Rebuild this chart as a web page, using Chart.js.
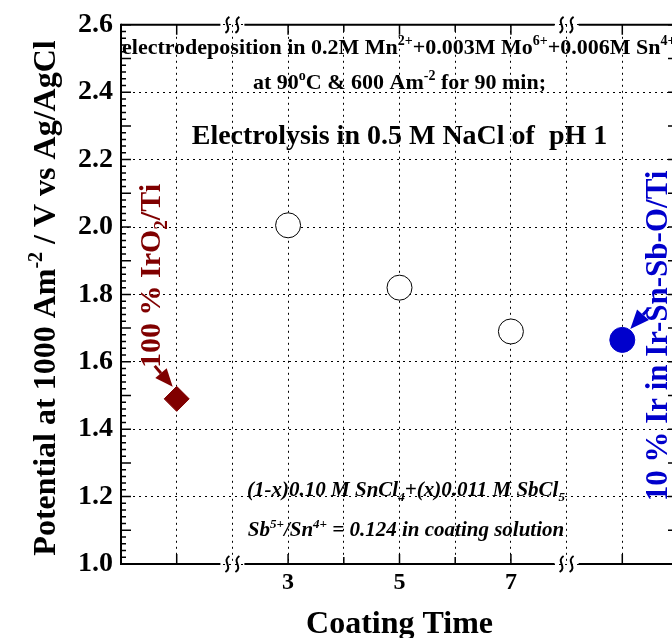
<!DOCTYPE html>
<html>
<head>
<meta charset="utf-8">
<script src="https://cdn.jsdelivr.net/npm/chart.js@4.4.1/dist/chart.umd.min.js"></script>
<style>
  html, body { margin: 0; padding: 0; background: #fff; overflow: hidden; }
  #wrap { width: 700px; height: 638px; }
</style>
</head>
<body>
<div id="wrap"><canvas id="chart" width="700" height="638"></canvas></div>
<script>
// datos
const coatingTime = [3, 5, 7];
const coatingPotential = [2.005, 1.82, 1.69];
const iro2Time = [1];
const iro2Potential = [1.49];
const ir10Time = [9];
const ir10Potential = [1.665];
const xTickLabels = [3, 5, 7];
const yTickLabels = [1.0, 1.2, 1.4, 1.6, 1.8, 2.0, 2.2, 2.4, 2.6];
const axisBreaks = [2, 8];

const FAMILY = '"Liberation Serif", "Times New Roman", serif';
const RED = '#800000';
const BLUE = '#0000cc';

function toPoints(xs, ys) {
    return xs.map((x, i) => ({ x: x, y: ys[i] }));
}

// texto con super/subindices
function drawRich(ctx, parts, x, y, size, align, italic) {
    const style = (italic ? 'italic ' : '') + 'bold ';
    const fontFor = k => style + (k === 'n' ? size : Math.round(size * 0.62)) + 'px ' + FAMILY;
    let w = 0;
    parts.forEach(p => { ctx.font = fontFor(p[1]); w += ctx.measureText(p[0]).width; });
    let cx = align === 'center' ? x - w / 2 : x;
    ctx.textAlign = 'left';
    ctx.textBaseline = 'alphabetic';
    parts.forEach(p => {
        ctx.font = fontFor(p[1]);
        const dy = p[1] === 'sup' ? -size * 0.4 : (p[1] === 'sub' ? size * 0.22 : 0);
        ctx.fillText(p[0], cx, y + dy);
        cx += ctx.measureText(p[0]).width;
    });
}

function drawArrow(ctx, x1, y1, x2, y2, color, headLen, headW) {
    const ang = Math.atan2(y2 - y1, x2 - x1);
    const bx = x2 - Math.cos(ang) * headLen;
    const by = y2 - Math.sin(ang) * headLen;
    ctx.strokeStyle = color;
    ctx.fillStyle = color;
    ctx.lineWidth = 3;
    ctx.beginPath();
    ctx.moveTo(x1, y1);
    ctx.lineTo(bx, by);
    ctx.stroke();
    ctx.beginPath();
    ctx.moveTo(x2, y2);
    ctx.lineTo(bx + Math.sin(ang) * headW / 2, by - Math.cos(ang) * headW / 2);
    ctx.lineTo(bx - Math.sin(ang) * headW / 2, by + Math.cos(ang) * headW / 2);
    ctx.closePath();
    ctx.fill();
}

function squiggle(ctx, sx, cy) {
    ctx.beginPath();
    ctx.moveTo(sx + 2, cy - 8);
    ctx.bezierCurveTo(sx - 6, cy - 3, sx + 6, cy + 3, sx - 2, cy + 8);
    ctx.stroke();
}

const framePlugin = {
    id: 'frame',
    beforeDatasetsDraw(chart) {
        const ctx = chart.ctx;
        const { left, right, top, bottom } = chart.chartArea;
        const xs = chart.scales.x, ys = chart.scales.y;
        ctx.save();
        ctx.strokeStyle = '#000';
        ctx.lineWidth = 2;
        // marco con cortes
        const gaps = axisBreaks.map(b => xs.getPixelForValue(b));
        [top, bottom].forEach(yy => {
            let start = left;
            ctx.beginPath();
            gaps.forEach(g => {
                ctx.moveTo(start, yy);
                ctx.lineTo(g - 12, yy);
                start = g + 12;
            });
            ctx.moveTo(start, yy);
            ctx.lineTo(right, yy);
            ctx.stroke();
        });
        ctx.beginPath();
        ctx.moveTo(left, top - 1);
        ctx.lineTo(left, bottom + 1);
        ctx.moveTo(right, top - 1);
        ctx.lineTo(right, bottom + 1);
        ctx.stroke();

        // ticks hacia dentro
        ctx.lineWidth = 1.5;
        ctx.beginPath();
        for (let i = 0; i <= 80; i++) {
            const py = ys.getPixelForValue(1 + i * 0.02);
            const len = i % 5 === 0 ? 10 : 5;
            ctx.moveTo(left, py); ctx.lineTo(left + len, py);
            ctx.moveTo(right, py); ctx.lineTo(right - len, py);
        }
        for (let v = 1; v <= 9; v++) {
            if (axisBreaks.includes(v)) continue;
            const px = xs.getPixelForValue(v);
            const len = v % 2 === 1 ? 10 : 7;
            ctx.moveTo(px, bottom); ctx.lineTo(px, bottom - len);
            ctx.moveTo(px, top); ctx.lineTo(px, top + len);
        }
        ctx.stroke();

        // marcas de corte
        ctx.lineWidth = 2;
        gaps.forEach(g => {
            [top, bottom].forEach(yy => {
                squiggle(ctx, g - 5, yy);
                squiggle(ctx, g + 5, yy);
            });
        });
        ctx.restore();
    },
    afterDatasetsDraw(chart) {
        const ctx = chart.ctx;
        const xs = chart.scales.x, ys = chart.scales.y;
        ctx.save();
        ctx.fillStyle = '#000';

        drawRich(ctx, [['electrodeposition in 0.2M Mn', 'n'], ['2+', 'sup'], ['+0.003M Mo', 'n'], ['6+', 'sup'],
            ['+0.006M Sn', 'n'], ['4+', 'sup']], 122, 54, 22, 'left');
        drawRich(ctx, [['at 90', 'n'], ['o', 'sup'], ['C & 600 Am', 'n'], ['-2', 'sup'], [' for 90 min;', 'n']],
            xs.getPixelForValue(5), 89, 22, 'center');
        drawRich(ctx, [['Electrolysis in 0.5 M NaCl of  pH 1', 'n']], xs.getPixelForValue(5), 144, 28, 'center');
        drawRich(ctx, [['(1-x)0.10 M SnCl', 'n'], ['4', 'sub'], ['+(x)0.011 M SbCl', 'n'], ['5', 'sub']],
            406, 496, 21, 'center', true);
        drawRich(ctx, [['Sb', 'n'], ['5+', 'sup'], ['/Sn', 'n'], ['4+', 'sup'], [' = 0.124 in coating solution', 'n']],
            406, 536, 21, 'center', true);

        // titulos de ejes
        drawRich(ctx, [['Coating Time', 'n']], xs.getPixelForValue(5), 633, 32, 'center');
        ctx.save();
        ctx.translate(55, 298);
        ctx.rotate(-Math.PI / 2);
        drawRich(ctx, [['Potential at 1000 Am', 'n'], ['-2', 'sup'], [' / V vs Ag/AgCl', 'n']], 0, 0, 32, 'center');
        ctx.restore();

        // etiqueta IrO2
        const dx = xs.getPixelForValue(iro2Time[0]), dy = ys.getPixelForValue(iro2Potential[0]);
        ctx.fillStyle = RED;
        ctx.save();
        ctx.translate(160, 276);
        ctx.rotate(-Math.PI / 2);
        drawRich(ctx, [['100 % IrO', 'n'], ['2', 'sub'], ['/Ti', 'n']], 0, 0, 30, 'center');
        ctx.restore();
        drawArrow(ctx, dx - 22, dy - 33, dx - 4, dy - 12, RED, 18, 15);

        // etiqueta 10 % Ir
        const bx = xs.getPixelForValue(ir10Time[0]), by = ys.getPixelForValue(ir10Potential[0]);
        ctx.fillStyle = BLUE;
        ctx.save();
        ctx.translate(667, 336);
        ctx.rotate(-Math.PI / 2);
        drawRich(ctx, [['10 % Ir in Ir-Sn-Sb-O/Ti', 'n']], 0, 0, 31, 'center');
        ctx.restore();
        drawArrow(ctx, bx + 26, by - 31, bx + 8, by - 11, BLUE, 19, 16);

        ctx.restore();
    }
};

const chart = new Chart(document.getElementById('chart'), {
    type: 'scatter',
    data: {
        datasets: [
            {
                label: 'coating',
                data: toPoints(coatingTime, coatingPotential),
                pointStyle: 'circle',
                pointRadius: 12.5,
                backgroundColor: '#fff',
                borderColor: '#000',
                borderWidth: 1
            },
            {
                label: 'IrO2',
                data: toPoints(iro2Time, iro2Potential),
                pointStyle: 'rectRot',
                pointRadius: 12.5,
                backgroundColor: RED,
                borderColor: RED,
                borderWidth: 1
            },
            {
                label: '10% Ir',
                data: toPoints(ir10Time, ir10Potential),
                pointStyle: 'circle',
                pointRadius: 12.5,
                backgroundColor: BLUE,
                borderColor: BLUE,
                borderWidth: 1
            }
        ]
    },
    options: {
        responsive: false,
        animation: false,
        devicePixelRatio: 1,
        layout: { padding: { top: 22, right: 22, left: 0, bottom: 0 } },
        plugins: { legend: { display: false }, tooltip: { enabled: false } },
        scales: {
            x: {
                type: 'linear',
                min: 0,
                max: 10,
                afterFit: s => { s.height = 74; },
                border: { display: false, dash: [2, 4] },
                grid: { color: '#000', lineWidth: 1, drawTicks: false },
                ticks: {
                    stepSize: 1,
                    padding: 4,
                    color: '#000',
                    font: { family: FAMILY, size: 24, weight: 'bold' },
                    callback: v => xTickLabels.includes(v) ? String(v) : ''
                }
            },
            y: {
                type: 'linear',
                min: 1.0,
                max: 2.6,
                afterFit: s => { s.width = 121; },
                border: { display: false, dash: [2, 4] },
                grid: { color: '#000', lineWidth: 1, drawTicks: false },
                ticks: {
                    stepSize: 0.1,
                    padding: 8,
                    color: '#000',
                    font: { family: FAMILY, size: 28, weight: 'bold' },
                    callback: v => {
                        const hit = yTickLabels.find(t => Math.abs(t - v) < 1e-6);
                        return hit === undefined ? '' : hit.toFixed(1);
                    }
                }
            }
        }
    },
    plugins: [framePlugin]
});
</script>
</body>
</html>
